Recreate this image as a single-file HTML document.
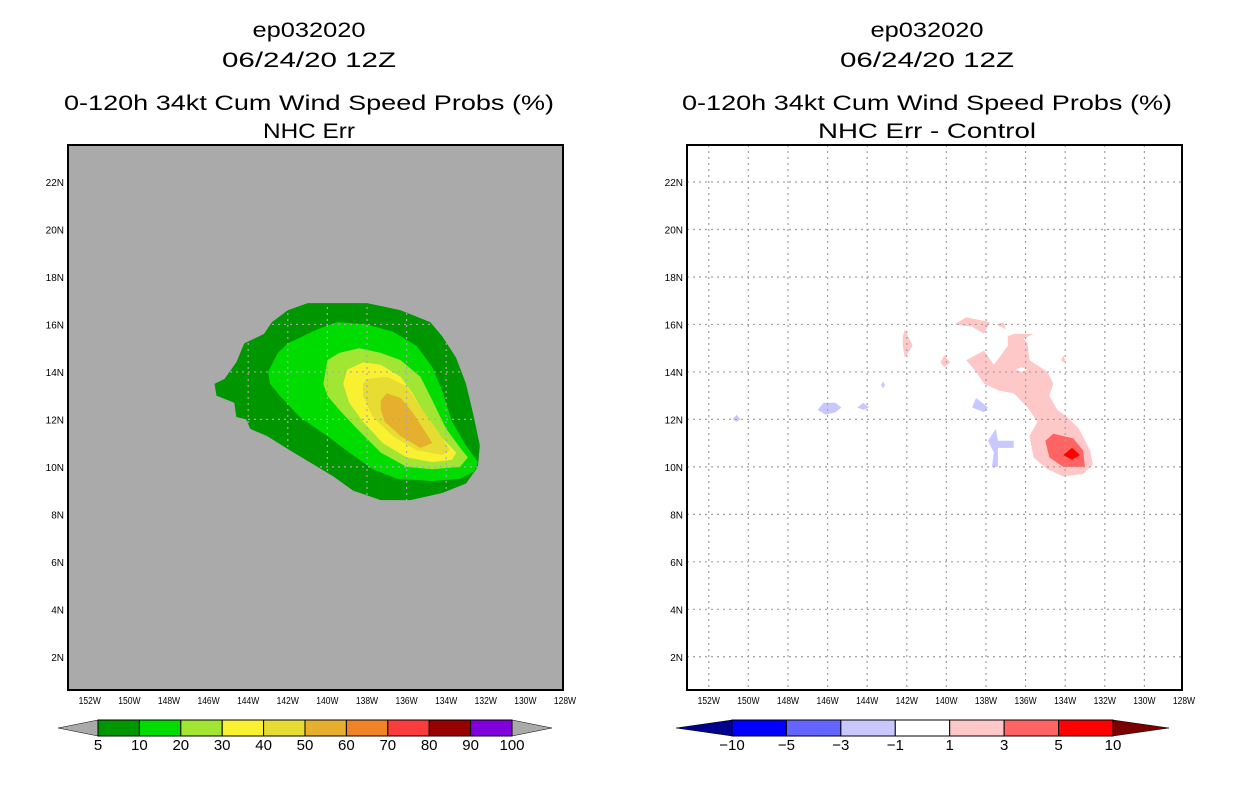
<!DOCTYPE html>
<html><head><meta charset="utf-8"><style>
html,body{margin:0;padding:0;background:#fff;}
svg{display:block;font-family:"Liberation Sans",sans-serif;}
</style></head><body>
<svg id="c" width="1236" height="800" viewBox="0 0 1236 800">
<g font-size="21" text-anchor="middle" fill="#000">
<text x="309" y="37" textLength="113" lengthAdjust="spacingAndGlyphs">ep032020</text><text x="309" y="67" textLength="174" lengthAdjust="spacingAndGlyphs">06/24/20 12Z</text>
<text x="309" y="110" textLength="490" lengthAdjust="spacingAndGlyphs">0-120h 34kt Cum Wind Speed Probs (%)</text><text x="309" y="138" textLength="92" lengthAdjust="spacingAndGlyphs">NHC Err</text></g>
<g font-size="21" text-anchor="middle" fill="#000">
<text x="927" y="37" textLength="113" lengthAdjust="spacingAndGlyphs">ep032020</text><text x="927" y="67" textLength="174" lengthAdjust="spacingAndGlyphs">06/24/20 12Z</text>
<text x="927" y="110" textLength="490" lengthAdjust="spacingAndGlyphs">0-120h 34kt Cum Wind Speed Probs (%)</text><text x="927" y="138" textLength="218" lengthAdjust="spacingAndGlyphs">NHC Err - Control</text></g>
<g id="L"></g>
<g id="R"></g>
<g id="CB"></g>
</svg>
<script>
const lonTicks=[-152,-150,-148,-146,-144,-142,-140,-138,-136,-134,-132,-130,-128];
const latTicks=[2,4,6,8,10,12,14,16,18,20,22];
const probLevels=['5','10','20','30','40','50','60','70','80','90','100'];
const probColors=['#009600','#00dc00','#a0e632','#faf032','#e6dc32','#e6af2d','#f08228','#fa3c3c','#960000','#8200dc'];
const diffLevels=['\u221210','\u22125','\u22123','\u22121','1','3','5','10'];
const diffColors=['#0000ff','#6464ff','#c8c8ff','#ffffff','#ffc8c8','#ff6464','#ff0000'];
const p5=[[-145.7,13.5],[-145.2,13.7],[-144.6,14.4],[-144.2,15.2],[-143.2,15.6],[-142.8,16.1],[-142.0,16.6],[-141.0,16.9],[-138.0,16.9],[-136.3,16.6],[-134.8,16.1],[-134.2,15.5],[-133.5,14.6],[-133.0,13.5],[-132.6,12.1],[-132.3,10.9],[-132.4,10.0],[-133.0,9.3],[-134.2,8.9],[-135.8,8.6],[-137.3,8.6],[-138.7,9.0],[-139.7,9.6],[-140.9,10.2],[-141.9,10.7],[-143.05,11.3],[-143.9,11.6],[-144.1,12.0],[-144.6,12.1],[-144.7,12.7],[-145.6,13.0]];
const p10=[[-143.0,14.0],[-142.5,14.8],[-142.0,15.2],[-140.5,15.8],[-139.5,16.1],[-138.0,16.0],[-136.7,15.7],[-135.5,15.1],[-134.7,14.2],[-134.2,13.2],[-133.7,11.9],[-133.0,10.9],[-132.4,10.2],[-132.6,9.8],[-133.3,9.5],[-134.7,9.4],[-136.5,9.5],[-137.7,9.9],[-138.9,10.6],[-140.0,11.3],[-141.4,12.1],[-142.4,13.0],[-142.9,13.5]];
const p20=[[-140.2,13.5],[-140.0,14.5],[-139.4,14.8],[-138.4,15.0],[-137.3,14.8],[-136.3,14.5],[-135.3,13.8],[-134.7,12.8],[-134.0,11.6],[-133.2,10.7],[-132.9,10.4],[-133.3,10.0],[-134.7,9.9],[-136.0,10.0],[-137.3,10.6],[-138.5,11.6],[-139.4,12.4],[-140.0,13.0]];
const p30=[[-139.2,13.5],[-139.0,14.1],[-138.2,14.4],[-137.3,14.3],[-136.3,13.8],[-135.7,13.1],[-135.0,12.1],[-134.3,11.3],[-133.5,10.6],[-133.7,10.3],[-134.7,10.2],[-136.0,10.4],[-137.2,11.0],[-138.2,11.9],[-138.9,12.7]];
const p40=[[-138.2,13.5],[-138.0,13.7],[-137.0,13.8],[-136.0,13.4],[-135.2,12.4],[-134.5,11.6],[-133.8,10.7],[-134.2,10.5],[-135.5,10.7],[-136.7,11.3],[-137.7,12.1],[-138.2,13.0]];
const p50=[[-137.3,12.8],[-137.0,13.1],[-136.3,12.9],[-135.7,12.3],[-135.0,11.4],[-134.7,11.0],[-135.3,10.8],[-136.3,11.3],[-137.1,11.9],[-137.3,12.4]];
const dPos1=[
[[-139.0,14.5],[-138.1,14.9],[-137.6,14.3],[-136.9,15.1],[-136.9,15.5],[-136.6,15.6],[-135.6,15.6],[-136.1,15.4],[-135.9,15.2],[-135.8,14.5],[-134.9,14.0],[-134.6,13.5],[-134.8,13.0],[-134.4,12.4],[-133.9,12.1],[-133.3,11.6],[-132.75,10.7],[-132.6,10.1],[-133.1,9.7],[-134.1,9.6],[-134.9,9.9],[-135.6,10.4],[-135.8,11.3],[-135.4,11.9],[-135.9,12.5],[-136.6,13.1],[-137.3,13.2],[-138.1,13.5],[-138.5,14.0]],
[[-139.6,16.0],[-139.0,16.3],[-137.8,16.1],[-138.1,15.6],[-138.7,15.9]],
[[-137.5,16.0],[-137.1,16.1],[-137.0,15.8]],
[[-142.2,15.5],[-142.1,15.8],[-141.7,15.1],[-142.1,14.6],[-142.2,15.1]],
[[-140.3,14.4],[-140.1,14.7],[-139.8,14.4],[-140.1,14.2]],
[[-134.1,14.7],[-134.0,14.5],[-134.1,14.4],[-134.2,14.5]]];
const dHole=[[-136.5,14.1],[-136.2,14.2],[-135.9,14.1],[-136.2,14.0]];
const dPos3=[[[-135.0,11.1],[-134.6,11.4],[-133.6,11.2],[-133.1,10.7],[-133.0,10.0],[-134.1,10.0],[-134.8,10.4]]];
const dPos5=[[[-134.1,10.5],[-133.65,10.8],[-133.25,10.5],[-133.65,10.3]]];
const dNeg1=[
[[-138.7,12.5],[-138.5,12.9],[-137.9,12.5],[-138.1,12.3]],
[[-137.9,11.1],[-137.5,11.6],[-137.4,11.1],[-136.6,11.1],[-136.6,10.8],[-137.4,10.8],[-137.4,10.0],[-137.7,10.0],[-137.6,10.6]],
[[-146.5,12.4],[-146.2,12.7],[-145.6,12.7],[-145.3,12.5],[-145.6,12.3],[-146.1,12.2]],
[[-144.5,12.5],[-144.2,12.7],[-143.9,12.5],[-144.2,12.4]],
[[-150.8,12.0],[-150.6,12.2],[-150.4,12.0],[-150.6,11.9]],
[[-143.2,13.6],[-143.1,13.45],[-143.2,13.3],[-143.3,13.45]]];

const NS='http://www.w3.org/2000/svg';
function mk(t,a,p){const e=document.createElementNS(NS,t);for(const k in a)e.setAttribute(k,a[k]);p.appendChild(e);return e;}
const LON0=-153.1,LON1=-128.1,LAT0=0.6,LAT1=23.56,Y0=145,Y1=690,W=495;
function xs(x0){return lon=>x0+(lon-LON0)/(LON1-LON0)*W;}
function ys(lat){return Y1-(lat-LAT0)/(LAT1-LAT0)*(Y1-Y0);}
function pts(poly,X){return poly.map(p=>X(p[0]).toFixed(1)+','+ys(p[1]).toFixed(1)).join(' ');}
function map(g,x0,bg,grid,layers){
  const X=xs(x0);
  const r=mk('rect',{x:x0,y:Y0,width:W,height:Y1-Y0,fill:bg},g);
  
  
  layers.forEach(([polys,col,nm])=>polys.forEach(pl=>{
    const e=mk('polygon',{points:pts(pl,X),fill:col},g);
    
    
  }));
  lonTicks.forEach(l=>{
    const x=X(l);
    if(l>-153&&l<-128.2){const ln=mk('line',{x1:x,y1:Y0,x2:x,y2:Y1,stroke:grid,'stroke-width':1.2,'stroke-dasharray':'2,4'},g);
    
    }
    const t=mk('text',{x:x,y:Y1+14,'font-size':10,'text-anchor':'middle',transform:`translate(${x},0) scale(0.85,1) translate(${-x},0)`},g);
    t.textContent=Math.abs(l)+'W';
    
    
  });
  latTicks.forEach(l=>{
    const y=ys(l);
    const ln=mk('line',{x1:x0,y1:y,x2:x0+W,y2:y,stroke:grid,'stroke-width':1.2,'stroke-dasharray':'2,4'},g);
    
    
    const t=mk('text',{x:x0-4,y:y+4,'font-size':10,'text-anchor':'end'},g);
    t.textContent=l+'N';
    
    
  });
  const b=mk('rect',{x:x0,y:Y0,width:W,height:Y1-Y0,fill:'none',stroke:'#000','stroke-width':2},g);
  
  
}
map(document.getElementById('L'),68,'#aaaaaa','#aaaaaa',[[[p5],probColors[0],'contour-5'],[[p10],probColors[1],'contour-10'],[[p20],probColors[2],'contour-20'],[[p30],probColors[3],'contour-30'],[[p40],probColors[4],'contour-40'],[[p50],probColors[5],'contour-50']]);
map(document.getElementById('R'),687,'#ffffff','#a0a0a0',[[dPos1,diffColors[4],'diff-pos-1'],[[dHole],'#ffffff','diff-hole'],[dPos3,diffColors[5],'diff-pos-3'],[dPos5,diffColors[6],'diff-pos-5'],[dNeg1,diffColors[2],'diff-neg-1']]);

function cbar(g,x0,x1,cols,labels,lcol,rcol,ext){
  const n=cols.length,w=(x1-x0)/n,y=720,h=16;
  const l=mk('polygon',{points:`${x0-ext},${y+h/2} ${x0},${y} ${x0},${y+h}`,fill:lcol,stroke:'#000','stroke-width':0.5},g);
  
  
  const r=mk('polygon',{points:`${x1+ext},${y+h/2} ${x1},${y} ${x1},${y+h}`,fill:rcol,stroke:'#000','stroke-width':0.5},g);
  
  
  cols.forEach((c,i)=>{
    const e=mk('rect',{x:x0+i*w,y:y,width:w,height:h,fill:c,stroke:'#000','stroke-width':1},g);
    
    
  });
  labels.forEach((s,i)=>{
    const t=mk('text',{x:x0+i*w,y:y+h+14,'font-size':15,'text-anchor':'middle'},g);
    t.textContent=s;
    
    
  });
}
const cb=document.getElementById('CB');
cbar(cb,98,512,probColors,probLevels,'#aaaaaa','#aaaaaa',40);
cbar(cb,732,1113,diffColors,diffLevels,'#00008c','#780000',56);
</script>
</body></html>
